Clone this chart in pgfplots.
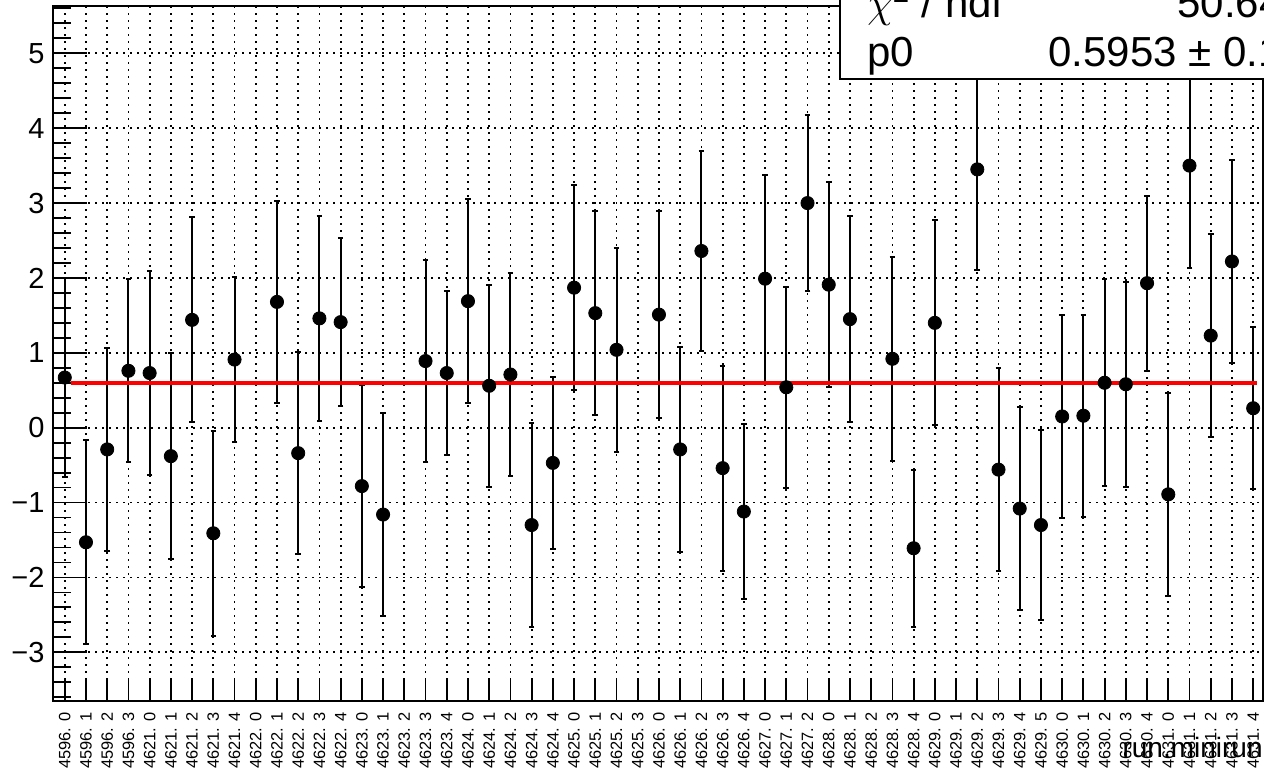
\documentclass[border=0pt]{standalone}
\usepackage{fontspec}
\setmainfont{Liberation Sans}
\usepackage{pgfplots}
\pgfplotsset{compat=1.18}
\usepackage{pgfplotstable}
\pgfplotstableread{
x y e
0 0.67 1.33
1 -1.53 1.36
2 -0.29 1.36
3 0.76 1.22
4 0.73 1.36
5 -0.38 1.38
6 1.44 1.37
7 -1.41 1.37
8 0.91 1.10
10 1.68 1.35
11 -0.34 1.35
12 1.46 1.37
13 1.41 1.12
14 -0.78 1.35
15 -1.16 1.36
17 0.89 1.35
18 0.73 1.10
19 1.69 1.36
20 0.56 1.35
21 0.71 1.35
22 -1.30 1.36
23 -0.47 1.15
24 1.87 1.37
25 1.53 1.36
26 1.04 1.36
28 1.51 1.38
29 -0.29 1.37
30 2.36 1.34
31 -0.54 1.37
32 -1.12 1.17
33 1.99 1.38
34 0.54 1.34
35 3.00 1.18
36 1.91 1.37
37 1.45 1.38
39 0.92 1.36
40 -1.61 1.05
41 1.40 1.37
43 3.45 1.35
44 -0.56 1.36
45 -1.08 1.35
46 -1.30 1.27
47 0.15 1.35
48 0.16 1.35
49 0.60 1.38
50 0.58 1.37
51 1.93 1.17
52 -0.89 1.36
53 3.50 1.37
54 1.23 1.36
55 2.22 1.36
56 0.26 1.08
}\datatable

\begin{document}
\begin{tikzpicture}
\begin{axis}[
  at={(26.65pt,37.15pt)}, anchor=south west,
  scale only axis, width=604.7pt, height=347.5pt,
  xmin=-0.54, xmax=56.45, ymin=-3.646, ymax=5.636,
  xtick={0,...,56},
  xticklabels={4596. 0,4596. 1,4596. 2,4596. 3,
    4621. 0,4621. 1,4621. 2,4621. 3,4621. 4,
    4622. 0,4622. 1,4622. 2,4622. 3,4622. 4,
    4623. 0,4623. 1,4623. 2,4623. 3,4623. 4,
    4624. 0,4624. 1,4624. 2,4624. 3,4624. 4,
    4625. 0,4625. 1,4625. 2,4625. 3,
    4626. 0,4626. 1,4626. 2,4626. 3,4626. 4,
    4627. 0,4627. 1,4627. 2,
    4628. 0,4628. 1,4628. 2,4628. 3,4628. 4,
    4629. 0,4629. 1,4629. 2,4629. 3,4629. 4,4629. 5,
    4630. 0,4630. 1,4630. 2,4630. 3,4630. 4,
    4631. 0,4631. 1,4631. 2,4631. 3,4631. 4},
  ytick={-3,...,5},
  yticklabels={−3,−2,−1,0,1,2,3,4,5},
  minor ytick={-3.6,-3.4,...,5.6},
  tick pos=left, tick align=inside,
  major tick length=10.5pt, minor tick length=9pt,
  axis line style={line width=1.1pt},
  every tick/.style={line width=0.9pt, black},
  ytick style={/pgfplots/major tick length=17pt},
  xmajorgrids, ymajorgrids,
  major grid style={black, line width=0.9pt, dash pattern=on 0.9pt off 2.6pt},
  xticklabel style={yshift=-5.8pt, rotate=90, anchor=east, inner sep=0pt, font=\fontsize{8.2}{10}\selectfont},
  yticklabel style={anchor=east, inner sep=0pt, xshift=-4.2pt, font=\fontsize{14.5}{16}\selectfont},
]
\addplot[only marks, mark=*, mark size=3.3pt, black, mark options={fill=black},
  error bars/.cd, y dir=both, y explicit, error mark=-,
  error bar style={line width=1pt, black},
  error mark options={rotate=90, line width=1pt, mark size=1.4pt, black}]
  table[x=x, y=y, y error=e] {\datatable};
\addplot[red, line width=2pt] coordinates {(0.3,0.5953) (56.2,0.5953)};
\end{axis}
\draw[line width=1pt, fill=white] (420pt,348pt) rectangle (720pt,420pt);
\node[anchor=base west, inner sep=0pt, font=\fontsize{21}{25}\selectfont] at (433.5pt,378.5pt) {$\chi$\textsuperscript{2} / ndf};
\node[anchor=base west, inner sep=0pt, font=\fontsize{21}{25}\selectfont] at (588.5pt,378.5pt) {50.64 / 51};
\node[anchor=base west, inner sep=0pt, font=\fontsize{21}{25}\selectfont] at (433.5pt,354.3pt) {p0};
\node[anchor=base west, inner sep=0pt, font=\fontsize{21}{25}\selectfont] at (524pt,354.3pt) {0.5953 ± 0.1826};
\node[anchor=base east, inner sep=0pt, font=\fontsize{14}{16}\selectfont] at (631.5pt,8.5pt) {run.minirun};
\pgfresetboundingbox
\path[use as bounding box] (0,0) rectangle (632pt,387.5pt);
\end{tikzpicture}
\end{document}
